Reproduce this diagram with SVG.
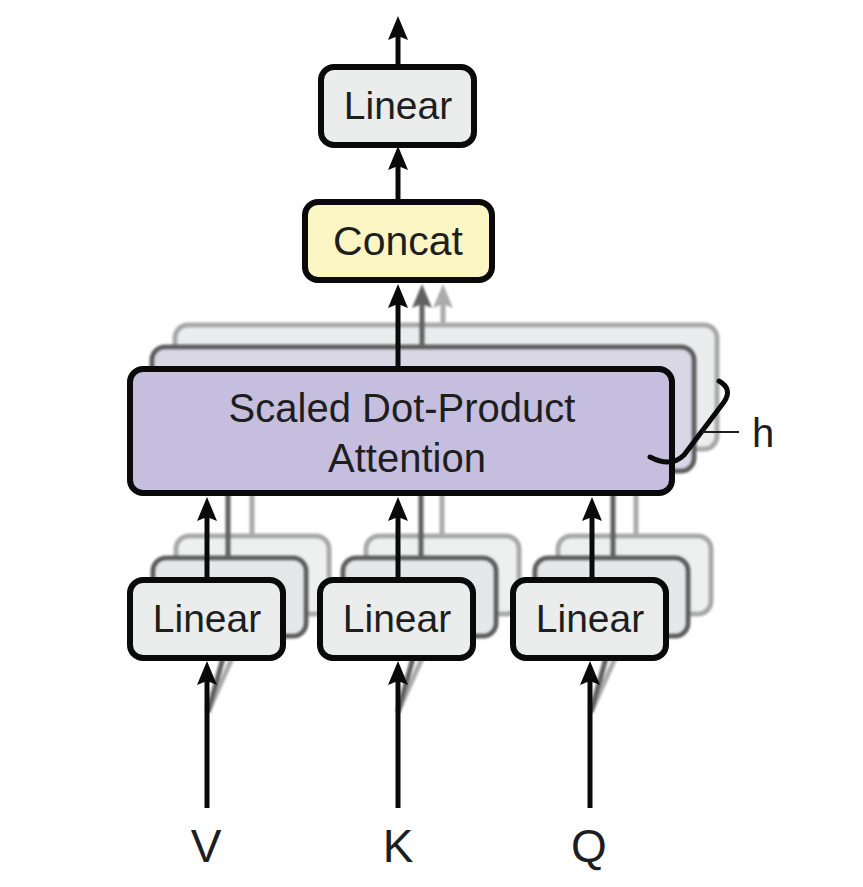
<svg xmlns="http://www.w3.org/2000/svg" width="863" height="887" viewBox="0 0 863 887">
<defs>
<style>
.lbl{font-family:"Liberation Sans","Helvetica Neue",Arial,sans-serif;fill:#1e1e1e;text-anchor:middle}
.main{stroke:#0a0a0a;stroke-width:6}
.lin{fill:#ebecec}
.s2{stroke:#5e5e5e;stroke-width:5}
.s3{stroke:#a9a9a9;stroke-width:5}
.blk{stroke:#0a0a0a;stroke-width:5;fill:none}
.dg{stroke:#606060;stroke-width:5;fill:none}
.lg{stroke:#ababab;stroke-width:5;fill:none}
</style>
<filter id="blur" x="-10%" y="-10%" width="120%" height="120%"><feGaussianBlur stdDeviation="1"/></filter>
<marker id="ab" viewBox="0 -10 24 20" refX="10" refY="0" markerWidth="24" markerHeight="20" markerUnits="userSpaceOnUse" orient="auto"><path d="M0,-10 L24,0 L0,10 L4,0 Z" fill="#0a0a0a"/></marker>
<marker id="ad" viewBox="0 -10 24 20" refX="10" refY="0" markerWidth="24" markerHeight="20" markerUnits="userSpaceOnUse" orient="auto"><path d="M0,-10 L24,0 L0,10 L4,0 Z" fill="#606060"/></marker>
<marker id="al" viewBox="0 -10 24 20" refX="10" refY="0" markerWidth="24" markerHeight="20" markerUnits="userSpaceOnUse" orient="auto"><path d="M0,-10 L24,0 L0,10 L4,0 Z" fill="#ababab"/></marker>
</defs>
<rect width="863" height="887" fill="#ffffff"/>

<!-- back layer (head 3) -->
<g id="heads-back" filter="url(#blur)">
<rect id="sdpa-3" x="175" y="325" width="542" height="124" rx="13" fill="#eaeced" class="s3"/>
<rect id="linear-v-3" x="176" y="536" width="153" height="78" rx="13" fill="#eef0f0" class="s3"/>
<rect id="linear-k-3" x="366" y="536" width="153" height="78" rx="13" fill="#eef0f0" class="s3"/>
<rect id="linear-q-3" x="558" y="536" width="153" height="78" rx="13" fill="#eef0f0" class="s3"/>
</g>
<!-- middle layer (head 2) -->
<g id="heads-mid" filter="url(#blur)">
<rect id="sdpa-2" x="152" y="347" width="542" height="124" rx="13" fill="#d9d6e6" class="s2"/>
<rect id="linear-v-2" x="153" y="558" width="153" height="78" rx="13" fill="#e6e7e8" class="s2"/>
<rect id="linear-k-2" x="343" y="558" width="153" height="78" rx="13" fill="#e6e7e8" class="s2"/>
<rect id="linear-q-2" x="535" y="558" width="153" height="78" rx="13" fill="#e6e7e8" class="s2"/>
</g>

<g id="connectors">
<g filter="url(#blur)">
<!-- input fan-out to hidden heads -->
<line class="lg" x1="208" y1="712" x2="250" y2="618" stroke-width="4"/>
<line class="dg" x1="208" y1="712" x2="228" y2="640" stroke-width="4"/>
<line class="lg" x1="398" y1="712" x2="440" y2="618" stroke-width="4"/>
<line class="dg" x1="398" y1="712" x2="418" y2="640" stroke-width="4"/>
<line class="lg" x1="591" y1="712" x2="633" y2="618" stroke-width="4"/>
<line class="dg" x1="591" y1="712" x2="611" y2="640" stroke-width="4"/>
<!-- hidden heads Linear -> SDPA -->
<line class="lg" x1="252" y1="536" x2="252" y2="450"/>
<line class="dg" x1="228" y1="558" x2="228" y2="472"/>
<line class="lg" x1="442" y1="536" x2="442" y2="450"/>
<line class="dg" x1="421" y1="558" x2="421" y2="472"/>
<line class="lg" x1="636" y1="536" x2="636" y2="450"/>
<line class="dg" x1="613" y1="558" x2="613" y2="472"/>
<!-- hidden heads SDPA -> Concat -->
<line class="lg" x1="443" y1="325" x2="443" y2="298" marker-end="url(#al)"/>
<line class="dg" x1="422" y1="347" x2="422" y2="298" marker-end="url(#ad)"/>
</g>
<!-- main head -->
<line class="blk" x1="207" y1="808" x2="207" y2="675" marker-end="url(#ab)"/>
<line class="blk" x1="398" y1="808" x2="398" y2="675" marker-end="url(#ab)"/>
<line class="blk" x1="590" y1="808" x2="590" y2="675" marker-end="url(#ab)"/>
<line class="blk" x1="207" y1="580" x2="207" y2="511" marker-end="url(#ab)"/>
<line class="blk" x1="398" y1="580" x2="398" y2="511" marker-end="url(#ab)"/>
<line class="blk" x1="592" y1="580" x2="592" y2="511" marker-end="url(#ab)"/>
<line class="blk" x1="398" y1="369" x2="398" y2="298" marker-end="url(#ab)"/>
<line class="blk" x1="398" y1="202" x2="398" y2="160" marker-end="url(#ab)"/>
<line class="blk" x1="398" y1="67" x2="398" y2="30" marker-end="url(#ab)"/>
</g>

<g id="linear-v">
<rect x="130" y="580" width="153" height="78" rx="13" class="main lin"/>
<text class="lbl" x="207" y="632" font-size="39">Linear</text>
</g>
<g id="linear-k">
<rect x="320" y="580" width="153" height="78" rx="13" class="main lin"/>
<text class="lbl" x="397" y="632" font-size="39">Linear</text>
</g>
<g id="linear-q">
<rect x="513" y="580" width="153" height="78" rx="13" class="main lin"/>
<text class="lbl" x="590" y="632" font-size="39">Linear</text>
</g>
<g id="sdpa">
<rect x="130" y="369" width="542" height="124" rx="13" class="main" fill="#c5bedf"/>
<text class="lbl" x="402" y="422" font-size="40">Scaled Dot-Product</text>
<text class="lbl" x="407" y="472" font-size="40">Attention</text>
</g>
<g id="concat">
<rect x="305" y="202" width="187" height="78" rx="13" class="main" fill="#fcf6c4"/>
<text class="lbl" x="398" y="255" font-size="41">Concat</text>
</g>
<g id="linear-out">
<rect x="321" y="67" width="153" height="78" rx="13" class="main lin"/>
<text class="lbl" x="398" y="119" font-size="39">Linear</text>
</g>
<g id="h-brace">
<path d="M719,381 Q733,389 724,402 L684,455 Q671,468 650,457" fill="none" stroke="#0a0a0a" stroke-width="5" stroke-linecap="round"/>
<line x1="702" y1="432" x2="739" y2="432" stroke="#1e1e1e" stroke-width="2"/>
<text class="lbl" x="763" y="447" font-size="40">h</text>
</g>
<g id="inputs">
<text class="lbl" x="206" y="862" font-size="46">V</text>
<text class="lbl" x="398" y="862" font-size="46">K</text>
<text class="lbl" x="589" y="862" font-size="46">Q</text>
</g>
</svg>
